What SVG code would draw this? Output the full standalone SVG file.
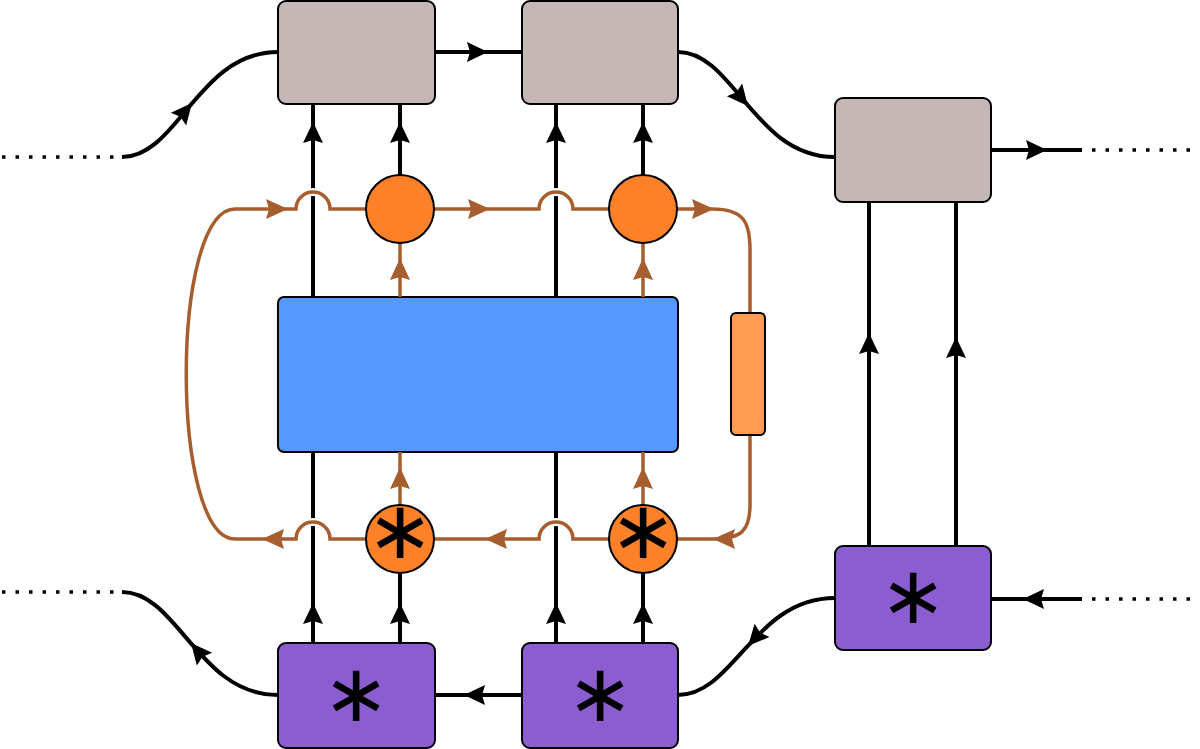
<svg xmlns="http://www.w3.org/2000/svg" width="1200" height="749" viewBox="0 0 1200 749">
<style>
.grey{fill:#c6b7b7;stroke:#000;stroke-width:2}
.purple{fill:#8b5dd1;stroke:#000;stroke-width:2}
.blue{fill:#5599ff;stroke:#000;stroke-width:2}
.circ{fill:#fd8128;stroke:#000;stroke-width:2}
.res{fill:#ff9b52;stroke:#000;stroke-width:2}
.bl{fill:none;stroke:#000;stroke-width:4}
.dot{fill:none;stroke:#000;stroke-width:3.5;stroke-dasharray:3.5 10}
.or{fill:none;stroke:#a65e2e;stroke-width:3.5}
.halo{fill:none;stroke:#fff;stroke-width:8}
.ab{fill:#000}
.ao{fill:#a65e2e}
.ast{font-family:"DejaVu Sans",sans-serif;font-size:80px;text-anchor:middle;fill:#000}
</style>
<defs>
<path id="ahb" d="M0,0 L-21,-10 L-18,0 L-21,10 Z"/>
<path id="aho" d="M0,0 L-22,-10 L-19,0 L-22,10 Z"/>
</defs>

<g id="connectors">
<path class="bl" d="M313,643 V104 M556,643 V104 M400,643 V574 M400,175 V104 M643,643 V574 M643,175 V104 M869,546 V202 M956,546 V202"/>
<path class="dot" d="M2,157 H122"/>
<path class="bl" d="M122,157 C178,157 198,52 278,52"/>
<path class="bl" d="M435,52 H522"/>
<path class="bl" d="M678,52 C734,52 754,157 835,157"/>
<path class="bl" d="M991,150 H1082"/>
<path class="dot" d="M1092,150 H1200"/>
<path class="dot" d="M1092,599 H1200"/>
<path class="bl" d="M1082,599 H991"/>
<path class="bl" d="M835,598 C754,598 734,695 678,695"/>
<path class="bl" d="M522,695 H435"/>
<path class="bl" d="M278,695 C198,695 178,592 122,592"/>
<path class="dot" d="M2,592 H122"/>
<g class="ab">
<use href="#ahb" transform="translate(192,103) rotate(-50)"/>
<use href="#ahb" transform="translate(488,52)"/>
<use href="#ahb" transform="translate(748,106) rotate(50)"/>
<use href="#ahb" transform="translate(1047,150)"/>
<use href="#ahb" transform="translate(1023,599) rotate(180)"/>
<use href="#ahb" transform="translate(748,646) rotate(132)"/>
<use href="#ahb" transform="translate(464,695) rotate(180)"/>
<use href="#ahb" transform="translate(191,643) rotate(-130)"/>
<use href="#ahb" transform="translate(313,122) rotate(-90)"/>
<use href="#ahb" transform="translate(400,122) rotate(-90)"/>
<use href="#ahb" transform="translate(556,122) rotate(-90)"/>
<use href="#ahb" transform="translate(643,122) rotate(-90)"/>
<use href="#ahb" transform="translate(313,603) rotate(-90)"/>
<use href="#ahb" transform="translate(400,603) rotate(-90)"/>
<use href="#ahb" transform="translate(556,603) rotate(-90)"/>
<use href="#ahb" transform="translate(643,603) rotate(-90)"/>
<use href="#ahb" transform="translate(869,333) rotate(-90)"/>
<use href="#ahb" transform="translate(956,337) rotate(-90)"/>
</g>
</g>

<g id="blue-block"><rect class="blue" x="278" y="297" width="400" height="155" rx="6"/></g>

<g id="orange-loop">
<path class="halo" d="M235,209 L296,209 A17,17 0 0 1 330,209 L539,209 A17,17 0 0 1 573,209 L712,209 C744,209 750,222 750,250 L750,505 C750,530 742,539 713,539 L573,539 A17,17 0 0 0 539,539 L330,539 A17,17 0 0 0 296,539 L235,539 C170,539 170,209 235,209 Z"/>
<path class="or" d="M235,209 L296,209 A17,17 0 0 1 330,209 L539,209 A17,17 0 0 1 573,209 L712,209 C744,209 750,222 750,250 L750,505 C750,530 742,539 713,539 L573,539 A17,17 0 0 0 539,539 L330,539 A17,17 0 0 0 296,539 L235,539 C170,539 170,209 235,209 Z"/>
<path class="or" d="M400,505 V452 M643,505 V452 M400,297 V243 M643,297 V243"/>
<g class="ao">
<use href="#aho" transform="translate(288,209)"/>
<use href="#aho" transform="translate(490,209)"/>
<use href="#aho" transform="translate(714,209)"/>
<use href="#aho" transform="translate(262,539) rotate(180)"/>
<use href="#aho" transform="translate(485,539) rotate(180)"/>
<use href="#aho" transform="translate(713,539) rotate(180)"/>
<use href="#aho" transform="translate(400,467) rotate(-90)"/>
<use href="#aho" transform="translate(643,467) rotate(-90)"/>
<use href="#aho" transform="translate(400,258) rotate(-90)"/>
<use href="#aho" transform="translate(643,258) rotate(-90)"/>
</g>
</g>

<g id="resistor"><rect class="res" x="731" y="313" width="34" height="122" rx="5"/></g>

<g id="grey1"><rect class="grey" x="278" y="1" width="157" height="103" rx="8"/></g>
<g id="grey2"><rect class="grey" x="522" y="1" width="156" height="103" rx="8"/></g>
<g id="grey3"><rect class="grey" x="835" y="98" width="156" height="104" rx="8"/></g>

<g id="circle-top1"><circle class="circ" cx="400" cy="209" r="34"/></g>
<g id="circle-top2"><circle class="circ" cx="643" cy="209" r="34"/></g>
<g id="circle-bot1"><circle class="circ" cx="400" cy="539" r="34"/><text class="ast" x="400" y="558">∗</text></g>
<g id="circle-bot2"><circle class="circ" cx="643" cy="539" r="34"/><text class="ast" x="643" y="558">∗</text></g>

<g id="purple1"><rect class="purple" x="278" y="643" width="157" height="105" rx="8"/><text class="ast" x="356" y="721">∗</text></g>
<g id="purple2"><rect class="purple" x="522" y="643" width="156" height="105" rx="8"/><text class="ast" x="600" y="721">∗</text></g>
<g id="purple3"><rect class="purple" x="835" y="546" width="156" height="104" rx="8"/><text class="ast" x="913" y="623">∗</text></g>
</svg>
